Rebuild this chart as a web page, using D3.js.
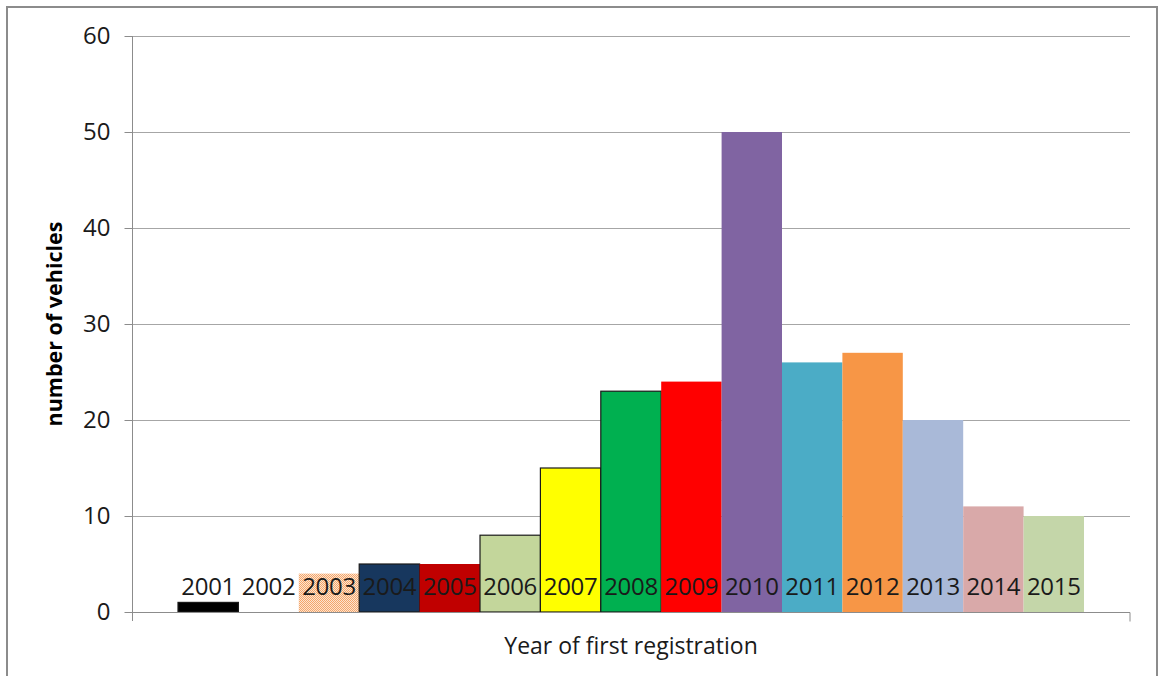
<!DOCTYPE html>
<html>
<head>
<meta charset="utf-8">
<script src="https://cdn.jsdelivr.net/npm/d3@7"></script>
<style>
  html, body { margin: 0; padding: 0; background: #fff; }
  svg { display: block; font-family: "Open Sans", "Liberation Sans", sans-serif; }
</style>
</head>
<body>
<svg id="chart" width="1160" height="676"></svg>
<script>
// Vehicles by year of first registration (one category, one bar per year)
const category = ["Year of first registration"];
const years = ["2001","2002","2003","2004","2005","2006","2007","2008","2009","2010","2011","2012","2013","2014","2015"];
const counts = [1, 0, 4, 5, 5, 8, 15, 23, 24, 50, 26, 27, 20, 11, 10];
const fills = ["#000000","#ffffff","url(#dots)","#17375E","#C00000","#C3D69B","#FFFF00","#00B050","#FF0000","#8064A2","#4BACC6","#F79646","#A9B9D8","#D9A9A9","#C4D6A9"];
const outlined = ["2001","2004","2006","2007","2008"];
const yTicks = [0, 10, 20, 30, 40, 50, 60];

const svg = d3.select("#chart");
const margin = { left: 132, right: 1130, top: 36, bottom: 612 };

// Dotted fill for 2003
const defs = svg.append("defs");
const pat = defs.append("pattern").attr("id", "dots")
  .attr("width", 2).attr("height", 2).attr("patternUnits", "userSpaceOnUse");
pat.append("rect").attr("width", 2).attr("height", 2).attr("fill", "#FCE4D0");
pat.append("rect").attr("width", 1).attr("height", 1).attr("fill", "#F4A56A");
pat.append("rect").attr("x", 1).attr("y", 1).attr("width", 1).attr("height", 1).attr("fill", "#F4A56A");

// Outer frame
svg.append("rect").attr("x", 7).attr("y", 7).attr("width", 1150).attr("height", 700)
  .attr("fill", "none").attr("stroke", "#8c8c8c").attr("stroke-width", 2);

const y = d3.scaleLinear().domain([0, 60]).range([margin.bottom, margin.top]);
const x0 = d3.scaleBand().domain(category).range([margin.left, margin.right]);
const inset = 0.0461 * x0.bandwidth();
const x1 = d3.scaleBand().domain(years)
  .range([x0(category[0]) + inset, x0(category[0]) + x0.bandwidth() - inset]);

// Gridlines
svg.append("g").selectAll("line").data(yTicks.filter(d => d > 0)).join("line")
  .attr("x1", margin.left).attr("x2", margin.right)
  .attr("y1", d => Math.round(y(d)) + 0.5).attr("y2", d => Math.round(y(d)) + 0.5)
  .attr("stroke", "#a6a6a6").attr("stroke-width", 1);

// Bars
svg.append("g").selectAll("rect").data(years).join("rect")
  .attr("x", d => x1(d))
  .attr("y", (d, i) => y(counts[i]))
  .attr("width", x1.bandwidth())
  .attr("height", (d, i) => y(0) - y(counts[i]))
  .attr("fill", (d, i) => fills[i])
  .attr("stroke", d => outlined.includes(d) ? "#1a1a1a" : "none")
  .attr("stroke-width", 1.2);

// Year labels inside the bars
svg.append("g").selectAll("text").data(years).join("text")
  .attr("x", d => x1(d) + x1.bandwidth() / 2)
  .attr("y", y(0) - 17)
  .attr("text-anchor", "middle")
  .attr("font-size", 24)
  .attr("letter-spacing", -0.3)
  .attr("fill", "#1a1a1a")
  .text(d => d);

// Y axis
const yAxis = svg.append("g").attr("transform", `translate(${margin.left + 0.5},0)`)
  .call(d3.axisLeft(y).tickValues(yTicks).tickSize(8).tickPadding(14));
yAxis.select(".domain").attr("d", `M0,${margin.top}V${margin.bottom + 9}`).attr("stroke", "#8c8c8c");
yAxis.selectAll(".tick line").attr("stroke", "#8c8c8c");
yAxis.selectAll(".tick text").attr("font-size", 24).attr("fill", "#1a1a1a")
  .attr("font-family", "Open Sans, Liberation Sans, sans-serif");

// X axis (single category)
const xAxis = svg.append("g").attr("transform", `translate(0,${margin.bottom + 0.5})`)
  .call(d3.axisBottom(x0).tickSize(0).tickPadding(25));
xAxis.select(".domain").attr("d", `M${margin.left},0H${margin.right}V9`).attr("stroke", "#8c8c8c");
xAxis.selectAll(".tick text").attr("font-size", 23).attr("fill", "#1a1a1a")
  .attr("font-family", "Open Sans, Liberation Sans, sans-serif");

// Y axis title
svg.append("text")
  .attr("transform", `translate(62,${(margin.top + margin.bottom) / 2 + 0}) rotate(-90)`)
  .attr("text-anchor", "middle")
  .attr("font-size", 21.5).attr("font-weight", "bold").attr("fill", "#000")
  .text("number of vehicles");
</script>
</body>
</html>
